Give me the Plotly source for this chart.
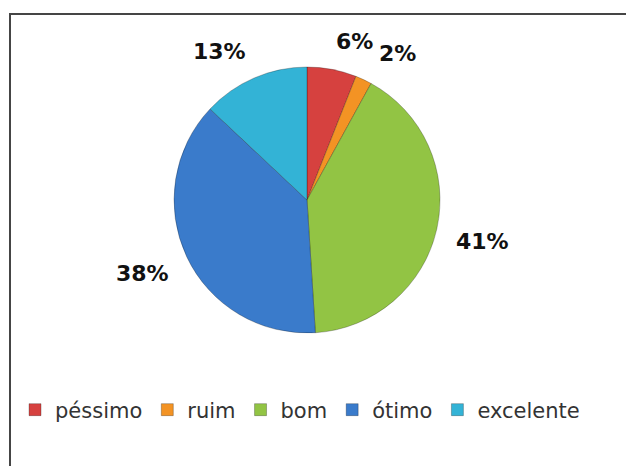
import math
import plotly.graph_objects as go

categories = ["péssimo", "ruim", "bom", "ótimo", "excelente"]
values = [6, 2, 41, 38, 13]
colors = ["#D6413F", "#F39324", "#92C444", "#3A7BCB", "#33B3D6"]

W, H = 626, 466
cx, cy, r = 307, 200, 133
label_size = 22

fig = go.Figure(go.Pie(
    labels=categories,
    values=values,
    sort=False,
    direction="clockwise",
    rotation=0,
    marker=dict(colors=colors, line=dict(color="rgba(0,0,0,0.25)", width=1)),
    textinfo="none",
    domain=dict(x=[(cx - r) / W, (cx + r) / W], y=[(H - cy - r) / H, (H - cy + r) / H]),
    hoverinfo="label+percent",
))

# outside percentage labels, placed from each slice's mid-angle
total = sum(values)
boxes = []
cum = 0.0
gap = 20
for v in values:
    mid = (cum + v / 2) / total * 2 * math.pi
    cum += v
    s, c = math.sin(mid), math.cos(mid)
    pct = f"{round(100 * v / total)}%"
    tw = 0.696 * label_size * (len(pct) - 1) + label_size
    px = cx + (r + gap) * s + (tw / 2) * (1 if s >= 0 else -1)
    py = cy - (r + gap) * c + 8 * (-1 if c >= 0 else 1)
    # simple collision avoidance with the previous label
    if boxes:
        ppx, ppy, ptw, _ = boxes[-1]
        if abs(py - ppy) < 18 and s >= 0:
            overlap = (ppx + ptw / 2 + 6) - (px - tw / 2)
            if overlap > 0:
                px += overlap
    boxes.append((px, py, tw, pct))

annotations = [dict(
    x=px / W, y=1 - py / H, xref="paper", yref="paper",
    text=f"<b>{pct}</b>", showarrow=False,
    xanchor="center", yanchor="middle",
    font=dict(family="DejaVu Sans", size=label_size, color="#111111"),
) for px, py, tw, pct in boxes]

fig.update_layout(
    width=W, height=H,
    margin=dict(l=0, r=0, t=0, b=0),
    paper_bgcolor="white",
    plot_bgcolor="white",
    showlegend=True,
    legend=dict(
        orientation="h", x=0.024, y=(H - 410) / H, xanchor="left", yanchor="middle",
        font=dict(family="DejaVu Sans", size=21, color="#333333"),
        itemwidth=30, traceorder="normal",
    ),
    annotations=annotations,
    shapes=[dict(type="rect", xref="paper", yref="paper",
                 x0=10 / W, x1=1.05, y0=-0.05, y1=(H - 14) / H,
                 line=dict(color="#454545", width=2))],
)

fig.write_html("out.html")
